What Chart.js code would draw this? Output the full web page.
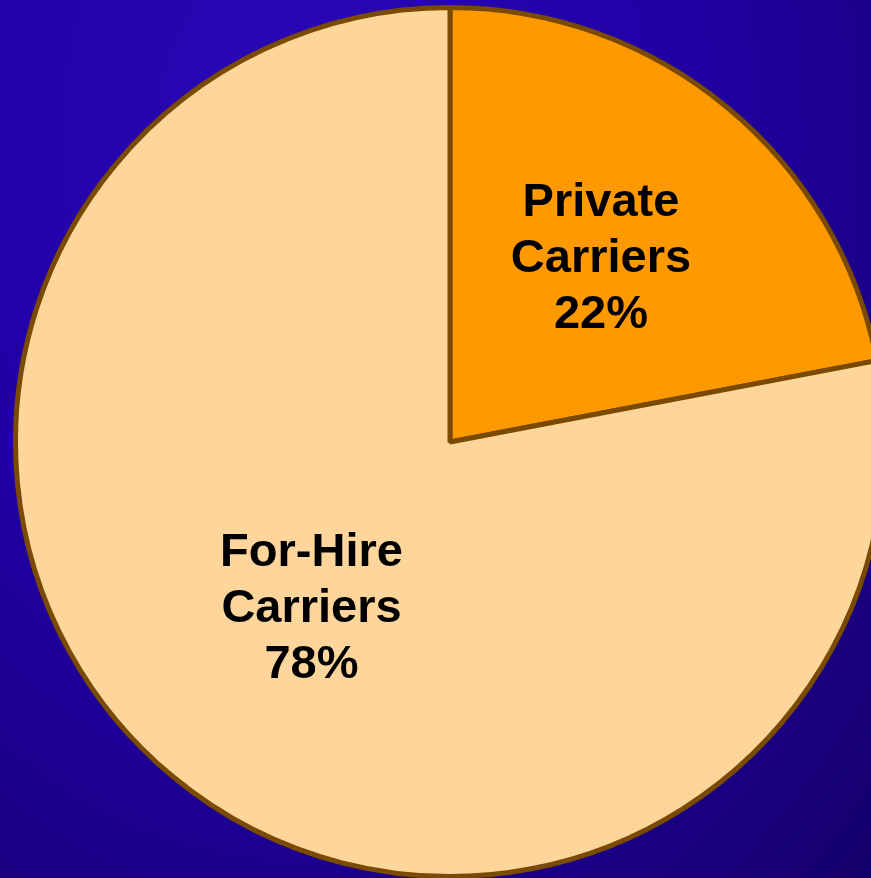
<!DOCTYPE html>
<html>
<head>
<meta charset="utf-8">
<script src="https://cdn.jsdelivr.net/npm/chart.js@4/dist/chart.umd.min.js"></script>
<style>
  html, body { margin: 0; padding: 0; width: 871px; height: 878px; overflow: hidden; }
  body {
    background: radial-gradient(ellipse at 35% 15%, #2a08b8 0%, #2100a6 45%, #1a0088 75%, #14006a 100%);
    position: relative;
  }
  #wrap { position: absolute; left: 0; top: 0; width: 900px; height: 884px; }
</style>
</head>
<body>
<div id="wrap"><canvas id="pieChart" width="900" height="884"></canvas></div>
<script>
// Carrier share data
const categories = ["Private\nCarriers", "For-Hire\nCarriers"];
const shares = [22, 78];
const sliceColors = ["#ff9900", "#fed59b"];

// draws the multi-line labels inside each slice
const sliceLabels = {
  id: 'sliceLabels',
  afterDatasetsDraw(chart, args, opts) {
    const ctx = chart.ctx;
    const meta = chart.getDatasetMeta(0);
    ctx.save();
    ctx.font = 'bold 47px "Liberation Sans", Arial, sans-serif';
    ctx.fillStyle = '#000';
    ctx.textAlign = 'center';
    ctx.textBaseline = 'middle';
    meta.data.forEach((arc, i) => {
      const mid = (arc.startAngle + arc.endAngle) / 2;
      const r = arc.outerRadius * opts.dist[i];
      const x = arc.x + Math.cos(mid) * r;
      const y = arc.y + Math.sin(mid) * r;
      const lines = categories[i].split("\n").concat(shares[i] + "%");
      lines.forEach((t, k) => {
        ctx.fillText(t, x, y + (k - (lines.length - 1) / 2) * 56);
      });
    });
    ctx.restore();
  }
};

new Chart(document.getElementById('pieChart').getContext('2d'), {
  type: 'pie',
  data: {
    labels: categories,
    datasets: [{
      data: shares,
      backgroundColor: sliceColors,
      borderColor: '#7a4a00',
      borderWidth: 5,
      hoverOffset: 0
    }]
  },
  options: {
    responsive: false,
    animation: false,
    layout: { padding: 5 },
    plugins: {
      legend: { display: false },
      tooltip: { enabled: false },
      sliceLabels: { dist: [0.545, 0.5] }
    }
  },
  plugins: [sliceLabels]
});
</script>
</body>
</html>
